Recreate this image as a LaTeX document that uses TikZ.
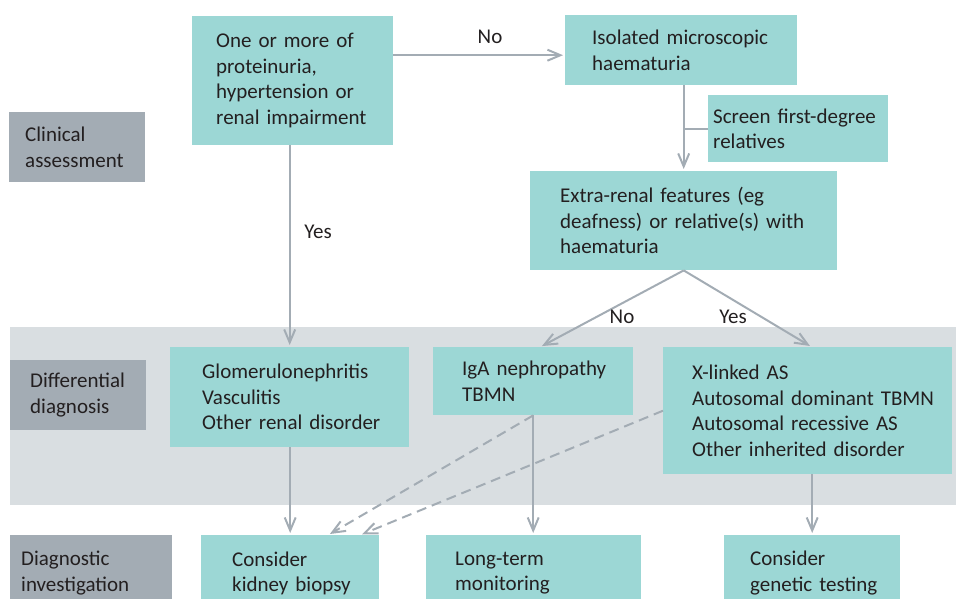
\documentclass[tikz,border=0pt]{standalone}
\usepackage{fontspec}
\setmainfont{Carlito}
\usetikzlibrary{arrows.meta}

\definecolor{boxteal}{HTML}{9CD7D5}
\definecolor{stagegray}{HTML}{A3ACB4}
\definecolor{bandgray}{HTML}{D9DEE1}
\definecolor{arrgray}{HTML}{A3ACB4}
\definecolor{txtgray}{HTML}{231F20}

\newcommand{\chartfont}{\fontsize{21pt}{25.5pt}\selectfont}

\tikzset{
  box/.style={fill=boxteal, anchor=north west, align=left, inner sep=0pt, text=txtgray},
  stage/.style={fill=stagegray, anchor=north west, align=left, inner sep=0pt, text=txtgray},
  pad/.style={execute at begin node={\leftskip=#1\relax}},
  lbl/.style={text=txtgray},
  line/.style={draw=arrgray, line width=2pt},
  arr/.style={line, shorten >=2pt, -{Straight Barb[length=13pt,width=11pt]}},
  darr/.style={arr, dash pattern=on 10pt off 6pt}
}

\begin{document}
\begin{tikzpicture}[x=1pt, y=-1pt, font=\chartfont]
  \useasboundingbox (0,0) rectangle (956,598);

  % band behind the differential diagnosis row
  \fill[bandgray] (10,327) rectangle (956,505);

  % stages
  \node[stage, text width=136pt, minimum height=70pt, pad=16pt] (clinical) at (9,112) {Clinical\\assessment};
  \node[stage, text width=136pt, minimum height=70pt, pad=20pt] (differential) at (10,360) {Differential\\diagnosis};
  \node[stage, text width=162pt, minimum height=76pt, pad=11pt] (investigation) at (10,535) {Diagnostic\\investigation};

  % clinical assessment
  \node[box, text width=201pt, minimum height=129pt, pad=24pt] (symptoms) at (192,16) {One or more of\\proteinuria,\\hypertension or\\renal impairment};
  \node[box, text width=232pt, minimum height=70pt, pad=27pt] (isolated) at (565,15) {Isolated microscopic\\haematuria};
  \node[box, text width=180pt, minimum height=67pt, pad=5pt] (screen) at (708,95) {Screen first-degree\\relatives};
  \node[box, text width=307pt, minimum height=99pt, pad=30pt] (features) at (530,171) {Extra-renal features (eg\\deafness) or relative(s) with\\haematuria};

  % differential diagnosis
  \node[box, text width=239pt, minimum height=100pt, pad=32pt] (glomerular) at (170,347) {Glomerulonephritis\\Vasculitis\\Other renal disorder};
  \node[box, text width=200pt, minimum height=68pt, pad=29pt] (iga) at (433,347) {IgA nephropathy\\TBMN};
  \node[box, text width=289pt, minimum height=127pt, pad=29pt] (inherited) at (663,347) {X-linked AS\\Autosomal dominant TBMN\\Autosomal recessive AS\\Other inherited disorder};

  % diagnostic investigation
  \node[box, text width=178pt, minimum height=76pt, pad=31pt] (biopsy) at (201,535) {Consider\\kidney biopsy};
  \node[box, text width=215pt, minimum height=76pt, pad=29pt] (monitor) at (426,535) {Long-term\\monitoring};
  \node[box, text width=176pt, minimum height=76pt, pad=26pt] (genetic) at (724,535) {Consider\\genetic testing};

  % connectors
  \coordinate (noend) at ([yshift=-5pt]isolated.west);
  \draw[arr] (symptoms.east |- noend) -- (noend);
  \draw[arr] (symptoms.south -| glomerular.north) -- (glomerular.north);
  \draw[arr] (isolated.south -| features.north) -- (features.north);
  \draw[line] (screen.west) -- (screen.west -| features.north);
  \draw[arr] (features.south) -- ([xshift=7pt]iga.north);
  \draw[arr] (features.south) -- ([xshift=4pt]inherited.north);
  \draw[arr] (glomerular.south -| biopsy.north) -- (biopsy.north);
  \draw[arr] (iga.south) -- (iga.south |- monitor.north);
  \draw[arr] (inherited.south -| genetic.north) -- (genetic.north);
  \draw[darr] (iga.south) -- ([xshift=38pt]biopsy.north);
  \draw[darr] (inherited.west) -- ([xshift=70pt]biopsy.north);

  \node[lbl] (no1) at (490,37) {No};
  \node[lbl] (yes1) at (318,232) {Yes};
  \node[lbl] (no2) at (622,317) {No};
  \node[lbl] (yes2) at (733,317) {Yes};
\end{tikzpicture}
\end{document}
